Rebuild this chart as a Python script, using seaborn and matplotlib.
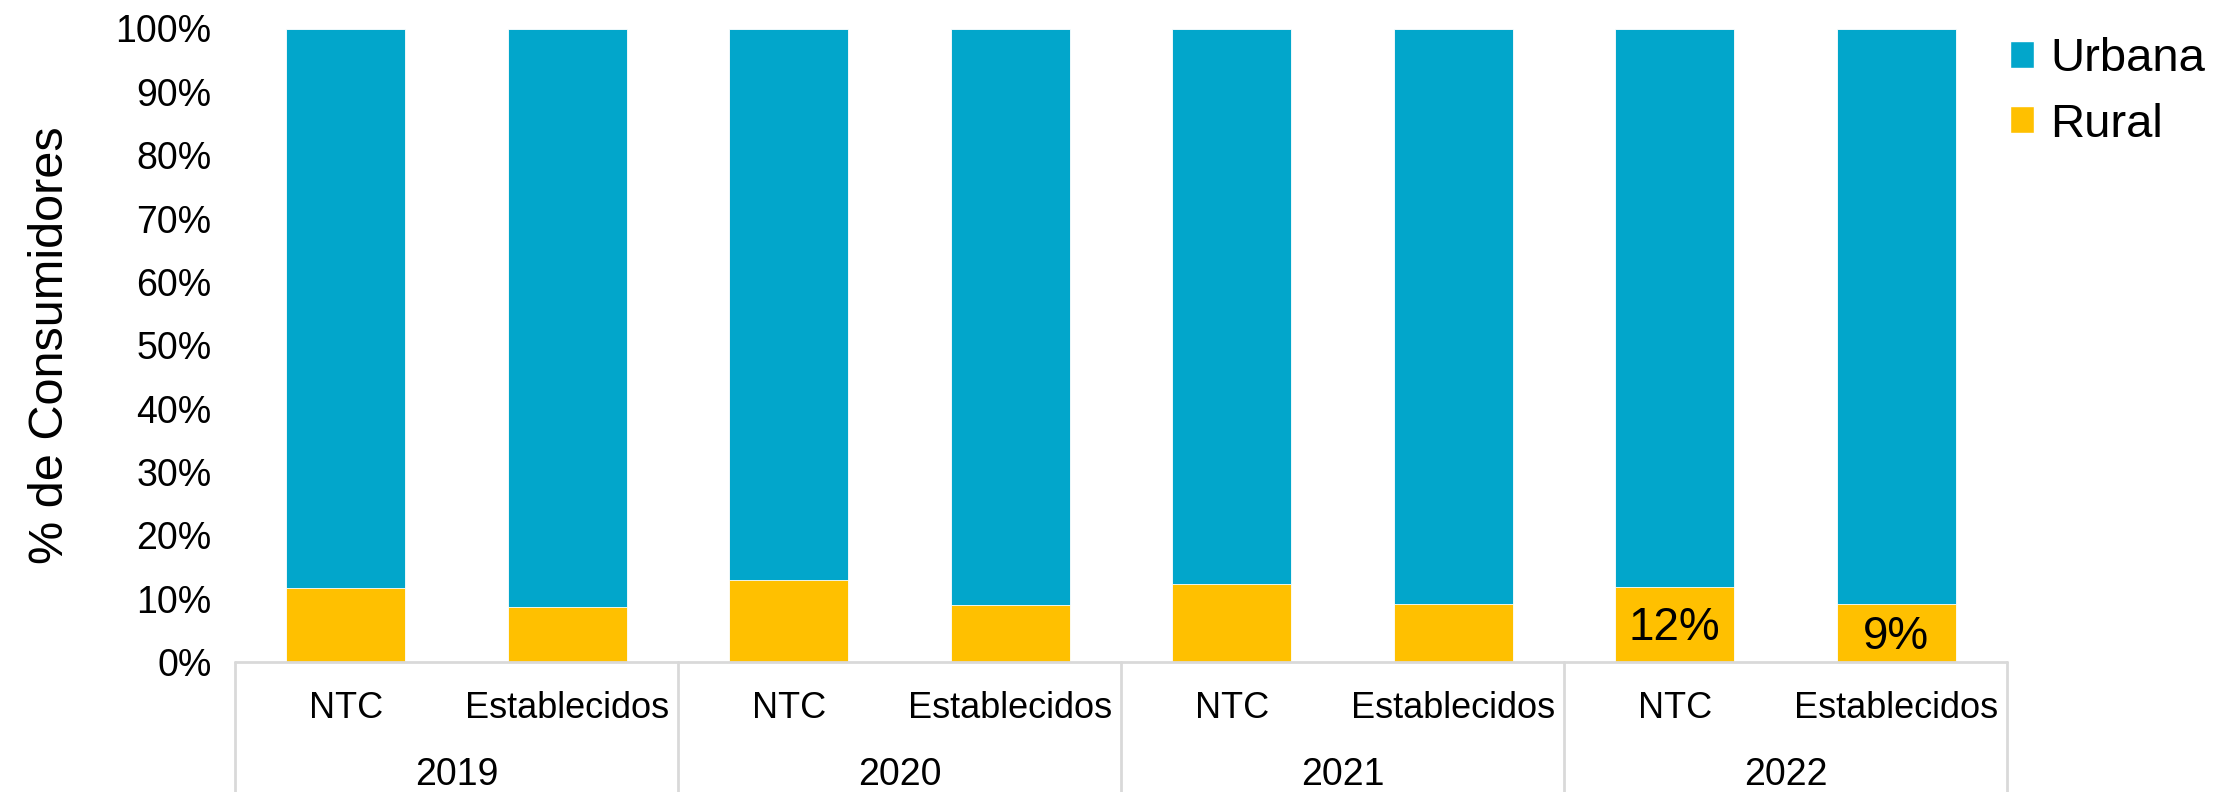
import matplotlib
matplotlib.use("Agg")
import matplotlib.pyplot as plt
from matplotlib import font_manager
from matplotlib.patches import Patch
import matplotlib.transforms as mtransforms
import pandas as pd
import seaborn as sns

# Share of consumers by area (NTC = new-to-credit vs. established)
years = ["2019", "2020", "2021", "2022"]
segments = ["NTC", "Establecidos"]
rural = [0.117, 0.087, 0.130, 0.090, 0.123, 0.091, 0.119, 0.092]
urbana = [0.883, 0.913, 0.870, 0.910, 0.877, 0.909, 0.881, 0.908]
labelled_years = ["2022"]

color_urbana = "#02A6CB"
color_rural = "#FFC000"
grid_gray = "#D9D9D9"

rows = []
i = 0
for y in years:
    for s in segments:
        rows.append({"key": f"{y}-{s}", "year": y, "segment": s,
                     "Rural": rural[i], "Urbana": urbana[i],
                     "total": rural[i] + urbana[i]})
        i += 1
df = pd.DataFrame(rows)
order = list(df["key"])

sns.set_theme(style="white")
plt.rcParams["text.color"] = "black"
plt.rcParams["axes.labelcolor"] = "black"
plt.rcParams["ytick.color"] = "black"
plt.rcParams["xtick.color"] = "black"

# tall lettering: a narrow face set larger keeps the same line widths
installed = {f.name for f in font_manager.fontManager.ttflist}
if "Liberation Sans Narrow" in installed:
    plt.rcParams["font.family"] = ["Liberation Sans Narrow", "DejaVu Sans"]
    fs = 1.0 / 0.82
else:
    plt.rcParams["font.family"] = ["Liberation Sans", "DejaVu Sans"]
    fs = 1.0

W, H = 2232, 792
fig = plt.figure(figsize=(W / 100, H / 100), dpi=100)
left, right, bottom, top = 235, 2007, 662, 28.5
ax = fig.add_axes([left / W, 1 - bottom / H, (right - left) / W, (bottom - top) / H])

# stacked bars: full column in blue, rural share on top of it in yellow
sns.barplot(data=df, x="key", y="total", order=order, color=color_urbana,
            width=0.535, saturation=1, ax=ax, edgecolor="white", linewidth=0.6)
sns.barplot(data=df, x="key", y="Rural", order=order, color=color_rural,
            width=0.535, saturation=1, ax=ax, edgecolor="white", linewidth=0.6)

ax.set_xlim(-0.5, len(order) - 0.5)
ax.set_ylim(0, 1)
ax.set_yticks([k / 10 for k in range(11)])
ax.set_yticklabels([f"{k * 10}%" for k in range(11)], fontsize=27 * fs)
ax.tick_params(axis="y", length=0, pad=17, labelcolor="black")
ax.set_xticks([])
ax.set_xlabel("")
ax.set_ylabel("% de Consumidores", fontsize=35 * fs, color="black")
ax.yaxis.set_label_coords(-0.104, 0.5)
ax.yaxis.label.set_verticalalignment("center")
for sp in ax.spines.values():
    sp.set_visible(False)

# category table under the axis
trans = mtransforms.blended_transform_factory(ax.transData, ax.transAxes)
ax.plot([-0.5, len(order) - 0.5], [0, 0], color=grid_gray, lw=2,
        transform=trans, clip_on=False, zorder=5)
for g in range(len(years) + 1):
    xb = -0.5 + 2 * g
    ax.plot([xb, xb], [0, -0.21], color=grid_gray, lw=2,
            transform=trans, clip_on=False)
for idx, row in df.iterrows():
    ax.text(idx, -0.074, row["segment"], transform=trans, ha="center",
            va="center", fontsize=26 * fs, color="black")
for g, y in enumerate(years):
    ax.text(2 * g + 0.5, -0.178, y, transform=trans, ha="center",
            va="center", fontsize=27 * fs, color="black")

# value labels on the rural segment
for idx, row in df.iterrows():
    if row["year"] in labelled_years:
        ax.text(idx, row["Rural"] / 2 - 0.006, f"{row['Rural']:.0%}", ha="center",
                va="center", fontsize=33 * fs, color="black")

handles = [Patch(facecolor=color_urbana, label="Urbana"),
           Patch(facecolor=color_rural, label="Rural")]
leg = fig.legend(handles=handles, loc="upper left",
                 bbox_to_anchor=(2010 / W, 1 - 37 / H), frameon=False,
                 fontsize=34 * fs, handlelength=0.5 / fs, handleheight=0.5 / fs,
                 handletextpad=0.35 / fs, labelspacing=0.46, borderpad=0,
                 borderaxespad=0)
for t in leg.get_texts():
    t.set_color("black")

fig.savefig("out.png", dpi=100)
